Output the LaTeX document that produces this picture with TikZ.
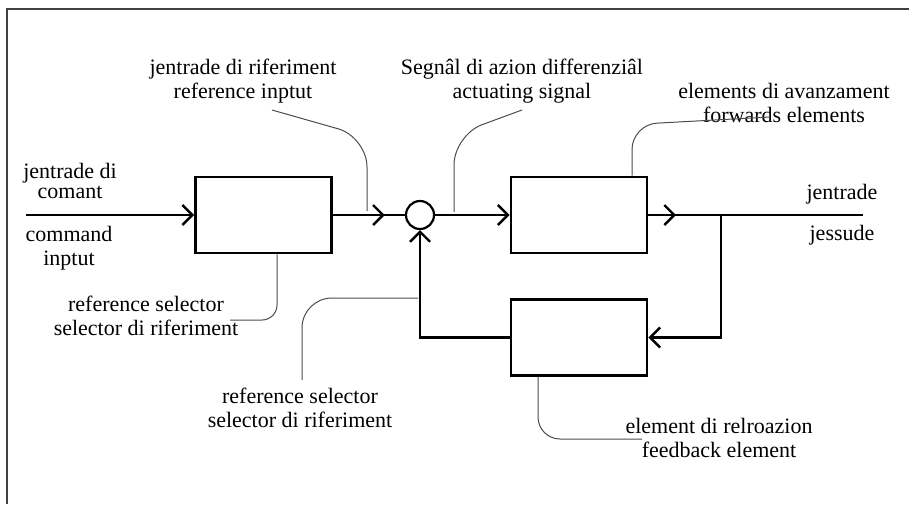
\documentclass[tikz,border=0pt]{standalone}
\usepackage{fontspec}
\setmainfont{Liberation Serif}
\usetikzlibrary{arrows.meta,decorations.markings}

\tikzset{
  block/.style={draw, line width=2.8pt, minimum width=136pt, minimum height=76pt, inner sep=0pt},
  sumnode/.style={draw, circle, line width=2.2pt, minimum size=28pt, inner sep=0pt},
  signal/.style={line width=2.4pt},
  barb/.style={-{Straight Barb[length=10pt,width=20pt]}},
  midbarb/.style={postaction={decorate}, decoration={markings,
      mark=at position #1 with {\arrow{Straight Barb[length=10pt,width=20pt]}}}},
  leader/.style={line width=1pt, black!70, rounded corners=#1},
  leader/.default=25pt,
  % anchored on the baseline of the last line
  lbl/.style={align=center, font=\fontsize{22}{24}\selectfont, inner sep=0pt, anchor=base},
}

\begin{document}
\begin{tikzpicture}[x=1pt, y=-1pt]
    \useasboundingbox (0,0) rectangle (909,504);
    % frame (only top and left edges show)
    \draw[line width=2pt, black!75] (909,8.5) -- (6.5,8.5) -- (6.5,504);

    % blocks and summing point
    \node[block]   (selector) at (263.5,215) {};
    \node[sumnode] (sum)      at (420,215) {};
    \node[block]   (forward)  at (579,215) {};
    \node[block]   (feedback) at (579,337.5) {};

    \coordinate (cmdin)  at (26,215);
    \coordinate (branch) at (721,215);
    \coordinate (out)    at (863,215);

    % forward path
    \draw[signal, barb] (cmdin) -- (selector.west);
    \draw[signal, midbarb=0.72] (selector.east) -- (sum.west);
    \draw[signal, barb] (sum.east) -- (forward.west);
    \draw[signal, midbarb=0.38] (forward.east) -- (branch);
    \draw[signal] (branch) -- (out);

    % feedback path
    \draw[signal, barb] (branch) |- (feedback.east);
    \draw[signal, barb] (feedback.west) -| (sum.south);

    % labels
    \node[lbl, font=\fontsize{22}{20}\selectfont] (cmdit) at (70,198) {jentrade di\\comant};
    \node[lbl] (cmden)  at (69,265)  {command\\inptut};
    \node[lbl] (refin)  at (243,98)  {jentrade di riferiment\\reference inptut};
    \node[lbl] (act)    at (522,98)  {Segnâl di azion differenziâl\\actuating signal};
    \node[lbl] (fwd)    at (784,122) {elements di avanzament\\forwards elements};
    \node[lbl] (outit)  at (842,199) {jentrade};
    \node[lbl] (outen)  at (842,240) {jessude};
    \node[lbl] (sel1)   at (146,335) {reference selector\\selector di riferiment};
    \node[lbl] (sel2)   at (300,427) {reference selector\\selector di riferiment};
    \node[lbl] (fbl)    at (719,457) {element di relroazion\\feedback element};

    % leader lines from the labels
    \draw[leader=30pt] (272,110) -- (367,137) -- (367,211);
    \draw[leader=30pt] (522,110) -- (454,135) -- (454,212);
    \draw[leader=25pt] (632,0 |- forward.north) -- (632,124.5) -- (770,117);
    \draw[leader=15pt] (277,0 |- selector.south) -- (277,320) -- (230,320);
    \draw[leader=30pt] (418,298) -- (302,298) -- (302,380);
    \draw[leader=22pt] (538,0 |- feedback.south) -- (538,439) -- (642,439);
\end{tikzpicture}
\end{document}
